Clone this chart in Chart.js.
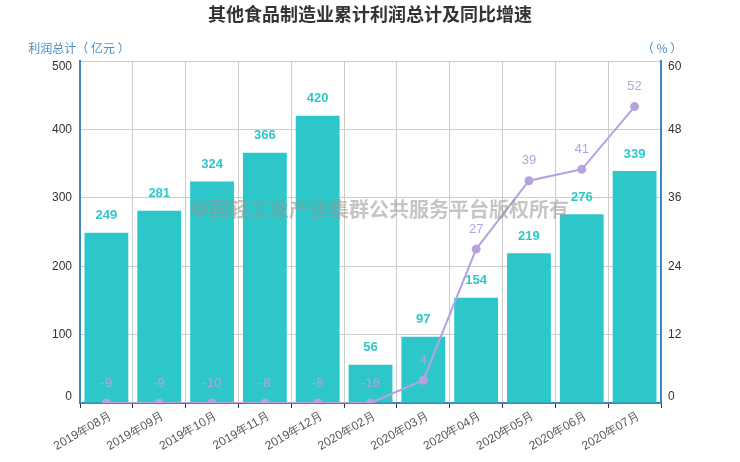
<!DOCTYPE html>
<html>
<head>
<meta charset="utf-8">
<script src="https://cdn.jsdelivr.net/npm/chart.js@4/dist/chart.umd.min.js"></script>
<style>
  html, body { margin: 0; padding: 0; background: #fff; }
  #wrap { width: 740px; height: 462px; }
</style>
</head>
<body>
<div id="wrap"><canvas id="chart" width="740" height="462"></canvas></div>
<script>
const months = ['2019年08月', '2019年09月', '2019年10月', '2019年11月', '2019年12月', '2020年02月',
  '2020年03月', '2020年04月', '2020年05月', '2020年06月', '2020年07月'];
const profit = [249, 281, 324, 366, 420, 56, 97, 154, 219, 276, 339];
const growth = [-9, -9, -10, -8, -8, -16, 4, 27, 39, 41, 52];
const leftTicks = [0, 100, 200, 300, 400, 500];
const rightTicks = [0, 12, 24, 36, 48, 60];

const axisBlue = '#3c87bd';
const barColor = '#2ec7c9';
const lineColor = '#b6a2de';
const font = '"Liberation Sans", Arial, sans-serif';

// y tick labels: the first and last are pulled inside the axis, like the original
function drawYLabels(ctx, scale, values, x, align) {
  ctx.textAlign = align;
  values.forEach((v, i) => {
    let y = scale.getPixelForValue(v);
    if (i == 0) y -= 6;
    if (i == values.length - 1) y += 6;
    ctx.fillText(v, x, y);
  });
}

// chart title, axis names, watermark and value labels
const decor = {
  id: 'decor',
  afterDatasetsDraw(chart) {
    const ctx = chart.ctx;
    ctx.save();
    ctx.textAlign = 'center';
    ctx.textBaseline = 'middle';

    ctx.fillStyle = 'rgba(150,150,150,0.55)';
    ctx.font = 'bold 20px "Noto Sans CJK SC", sans-serif';
    ctx.fillText('中国轻工业产业集群公共服务平台版权所有', 379, 209);

    // bars
    ctx.font = 'bold 13px ' + font;
    ctx.fillStyle = barColor;
    chart.getDatasetMeta(0).data.forEach((el, i) => {
      ctx.fillText(profit[i], el.x, el.y - 17);
    });
    // line
    ctx.font = '13px ' + font;
    ctx.fillStyle = lineColor;
    chart.getDatasetMeta(1).data.forEach((el, i) => {
      ctx.fillText(growth[i], el.x, el.y - 20);
    });
    ctx.restore();
  },
  afterDraw(chart) {
    const ctx = chart.ctx;
    const area = chart.chartArea;
    ctx.save();
    ctx.textBaseline = 'middle';

    ctx.fillStyle = '#333';
    ctx.font = '12px ' + font;
    drawYLabels(ctx, chart.scales.y, leftTicks, area.left - 8, 'right');
    drawYLabels(ctx, chart.scales.y1, rightTicks, area.right + 7, 'left');

    ctx.fillStyle = '#333';
    ctx.font = 'bold 18px "Noto Sans CJK SC", sans-serif';
    ctx.textAlign = 'center';
    ctx.fillText('其他食品制造业累计利润总计及同比增速', 370, 14);

    ctx.fillStyle = '#4a8cc4';
    ctx.font = '12px "Noto Sans CJK SC", sans-serif';
    ctx.textAlign = 'center';
    ctx.fillText('利润总计（ 亿元 ）', 79, 48);
    ctx.fillText('（ % ）', 662, 48);
    ctx.restore();
  }
};

const config = {
  data: {
    labels: months,
    datasets: [
      {
        type: 'bar',
        label: '利润总计',
        data: profit,
        yAxisID: 'y',
        backgroundColor: barColor,
        categoryPercentage: 1,
        barPercentage: 0.83,
        order: 1
      },
      {
        type: 'line',
        label: '同比增速',
        data: growth.map(v => Math.max(v, 0)),
        yAxisID: 'y1',
        borderColor: lineColor,
        backgroundColor: lineColor,
        borderWidth: 2,
        pointRadius: 3.5,
        pointHoverRadius: 3.5,
        tension: 0,
        order: 0
      }
    ]
  },
  options: {
    responsive: false,
    animation: false,
    layout: { padding: { top: 61, left: 0, right: 0, bottom: 0 } },
    plugins: {
      legend: { display: false },
      title: { display: false },
      tooltip: { enabled: false }
    },
    scales: {
      x: {
        offset: true,
        grid: { offset: true, color: '#cccccc', tickLength: 5, tickColor: '#333' },
        border: { color: axisBlue, width: 2 },
        ticks: { color: '#555', font: { size: 12, family: font }, maxRotation: 30, minRotation: 30, padding: 1, labelOffset: 4 },
        afterFit(s) { s.height = 59; }
      },
      y: {
        position: 'left',
        min: 0, max: 500,
        afterBuildTicks(s) { s.ticks = leftTicks.map(v => ({ value: v })); },
        grid: { color: '#cccccc', drawTicks: false },
        border: { color: axisBlue, width: 2 },
        ticks: { display: false },
        afterFit(s) { s.width = 80; }
      },
      y1: {
        position: 'right',
        min: 0, max: 60,
        afterBuildTicks(s) { s.ticks = rightTicks.map(v => ({ value: v })); },
        grid: { display: false, drawTicks: false },
        border: { color: axisBlue, width: 2 },
        ticks: { display: false },
        afterFit(s) { s.width = 79; }
      }
    }
  },
  plugins: [decor]
};

const Charts = new Chart('chart', config);
</script>
</body>
</html>
